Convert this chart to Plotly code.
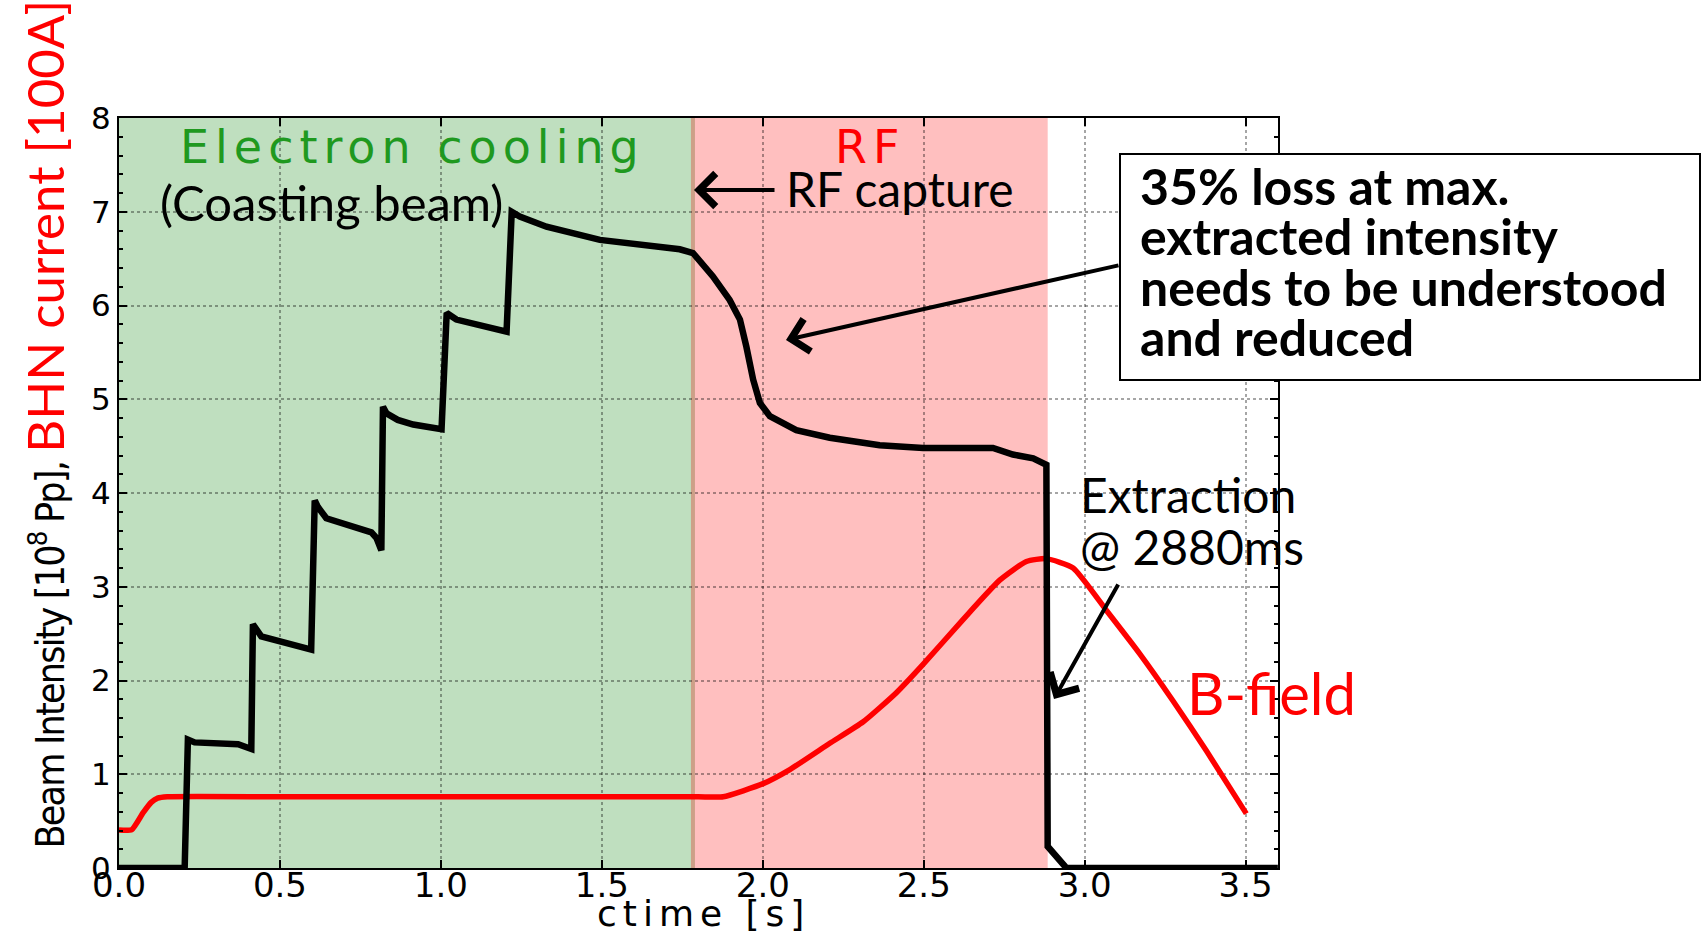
import plotly.graph_objects as go

# Beam intensity [1e8 Pp] over the machine cycle, ctime [s]
beam_t = [0.0, 0.204, 0.214, 0.235, 0.37, 0.40, 0.411, 0.416, 0.428, 0.442, 0.597,
          0.608, 0.618, 0.644, 0.784, 0.80, 0.815, 0.82, 0.831, 0.866, 0.914, 1.002,
          1.018, 1.048, 1.204, 1.22, 1.245, 1.328, 1.494, 1.638, 1.742, 1.783, 1.845,
          1.897, 1.929, 1.949, 1.97, 1.991, 2.022, 2.104, 2.208, 2.363, 2.498, 2.715,
          2.777, 2.84, 2.881, 2.885, 2.943, 3.6]
beam_i = [0.0, 0.0, 1.37, 1.34, 1.32, 1.29, 1.27, 2.6, 2.55, 2.47, 2.33,
          3.92, 3.85, 3.73, 3.58, 3.52, 3.39, 4.92, 4.85, 4.78, 4.73, 4.68,
          5.92, 5.85, 5.72, 7.0, 6.95, 6.84, 6.70, 6.65, 6.60, 6.56, 6.31,
          6.06, 5.85, 5.56, 5.21, 4.96, 4.82, 4.67, 4.59, 4.51, 4.48, 4.48,
          4.41, 4.37, 4.30, 0.23, 0.0, 0.0]

# BHN magnet current [100 A] (B-field ramp)
bhn_t = [0.0, 0.04, 0.075, 0.10, 0.12, 0.15, 0.5, 1.0, 1.5, 1.8, 1.877, 2.001, 2.084,
         2.208, 2.312, 2.415, 2.5, 2.622, 2.736, 2.819, 2.881, 2.964, 3.067, 3.17,
         3.273, 3.378, 3.502]
bhn_i = [0.405, 0.41, 0.59, 0.70, 0.745, 0.76, 0.76, 0.76, 0.76, 0.76, 0.76, 0.90, 1.05,
         1.33, 1.56, 1.87, 2.18, 2.65, 3.07, 3.27, 3.30, 3.20, 2.75, 2.29,
         1.79, 1.25, 0.58]

# Cycle phases [s]
cooling_phase = (0.0, 1.783)
rf_phase = (1.783, 2.885)

x_ticks = [0.0, 0.5, 1.0, 1.5, 2.0, 2.5, 3.0, 3.5]
x_tick_labels = ["0.0", "0.5", "1.0", "1.5", "2.0", "2.5", "3.0", "3.5"]
y_ticks = [0, 1, 2, 3, 4, 5, 6, 7, 8]
y_tick_labels = ["0", "1", "2", "3", "4", "5", "6", "7", "8"]

W, H = 1708, 933
L, R, T, B = 119, 430, 118, 65
PW, PH = W - L - R, H - T - B


def px(x):
    return (x - L) / PW


def py(y):
    return (H - B - y) / PH


CAL = "Lato, 'Open Sans', sans-serif"
MPL = "'DejaVu Sans', sans-serif"

fig = go.Figure()
fig.add_trace(go.Scatter(x=bhn_t, y=bhn_i, mode="lines",
                         line=dict(color="#ff0000", width=5.5, shape="spline", smoothing=0.5),
                         hoverinfo="skip"))
fig.add_trace(go.Scatter(x=beam_t, y=beam_i, mode="lines",
                         line=dict(color="black", width=6.5), hoverinfo="skip"))

shapes = [
    dict(type="rect", xref="x", yref="y", x0=cooling_phase[0], x1=cooling_phase[1], y0=0, y1=8,
         fillcolor="#bfdfbf", line=dict(width=0), layer="below"),
    dict(type="rect", xref="x", yref="y", x0=rf_phase[0], x1=rf_phase[1], y0=0, y1=8,
         fillcolor="#ffbfbf", line=dict(width=0), layer="below"),
    dict(type="line", xref="x", yref="y", x0=rf_phase[0], x1=rf_phase[0], y0=0, y1=8,
         line=dict(color="#cda088", width=4), layer="below"),
    dict(type="rect", xref="paper", yref="paper", x0=px(1120), x1=px(1700), y0=py(380), y1=py(154),
         fillcolor="white", line=dict(color="black", width=2), layer="above"),
]

ann = []


def text(x, y, s, size, color="black", family=CAL, xanchor="center", weight=None):
    f = dict(family=family, size=size, color=color)
    if weight:
        f["weight"] = weight
    ann.append(dict(x=px(x), y=py(y), xref="paper", yref="paper", text=s, showarrow=False,
                    xanchor=xanchor, yanchor="middle", font=f))


def arrow(hx, hy, tx, ty, width=4, size=1.6):
    ann.append(dict(x=px(hx), y=py(hy), xref="paper", yref="paper", text="", showarrow=True,
                    ax=tx - hx, ay=ty - hy, arrowhead=4, arrowsize=size, arrowwidth=width,
                    arrowcolor="black", standoff=0))


text(412, 147, '<span style="letter-spacing:6px">Electron cooling</span>', 46, "#1f991f", MPL)
text(870, 147, '<span style="letter-spacing:6px">RF</span>', 46, "#ff0000", MPL)
text(331, 202, "(Coasting beam)", 49)
text(784, 188, "RF capture", 48, xanchor="left")
arrow(694, 190, 776, 190)

for s, y in [("35% loss at max.", 186), ("extracted intensity", 236),
             ("needs to be understood", 287), ("and reduced", 337)]:
    text(1138, y, s, 50, xanchor="left", weight=700)
arrow(786, 340, 1120, 265)

text(1078, 494, "Extraction", 48, xanchor="left")
text(1078, 546, "@ 2880ms", 48, xanchor="left")
arrow(1054, 699, 1119, 583)

text(1185, 692, "B-field", 58, "#ff0000", xanchor="left")

text(703, 914, '<span style="letter-spacing:6px">ctime [s]</span>', 36, "black", MPL)

ann.append(dict(
    x=px(44), y=py(851), xref="paper", yref="paper", showarrow=False, textangle=-90,
    xanchor="center", yanchor="bottom",
    text=('<span style="font-family:\'DejaVu Sans Condensed\', \'DejaVu Sans\';'
          'font-size:39px;letter-spacing:-1.8px;color:black">Beam Intensity [10<sup>8</sup> Pp], </span>'
          '<span style="font-family:Lato;font-size:51px;color:#ff0000">BHN current [100A]</span>'),
    font=dict(family=CAL, size=40, color="black"),
))

fig.update_layout(
    width=W, height=H,
    margin=dict(l=L, r=R, t=T, b=B, pad=0),
    paper_bgcolor="white", plot_bgcolor="white",
    showlegend=False,
    shapes=shapes, annotations=ann,
    xaxis=dict(range=[0, PW / 321.9], tickvals=x_ticks, ticktext=x_tick_labels,
               showline=True, mirror="ticks", linecolor="black", linewidth=2,
               ticks="inside", ticklen=8, tickwidth=1.5, tickcolor="black",
               showgrid=True, gridcolor="rgba(0,0,0,0.35)", griddash="dot", gridwidth=1.5,
               zeroline=False, ticklabelstandoff=-14,
               tickfont=dict(family=MPL, size=34, color="black")),
    yaxis=dict(range=[0, 8], tickvals=y_ticks, ticktext=y_tick_labels,
               showline=True, mirror="ticks", linecolor="black", linewidth=2,
               ticks="inside", ticklen=8, tickwidth=1.5, tickcolor="black",
               minor=dict(ticks="inside", ticklen=4, dtick=0.2, tickcolor="black", showgrid=False),
               showgrid=True, gridcolor="rgba(0,0,0,0.35)", griddash="dot", gridwidth=1.5,
               zeroline=False, ticklabelstandoff=0,
               tickfont=dict(family=MPL, size=31, color="black")),
)

fig.write_html("out.html")
